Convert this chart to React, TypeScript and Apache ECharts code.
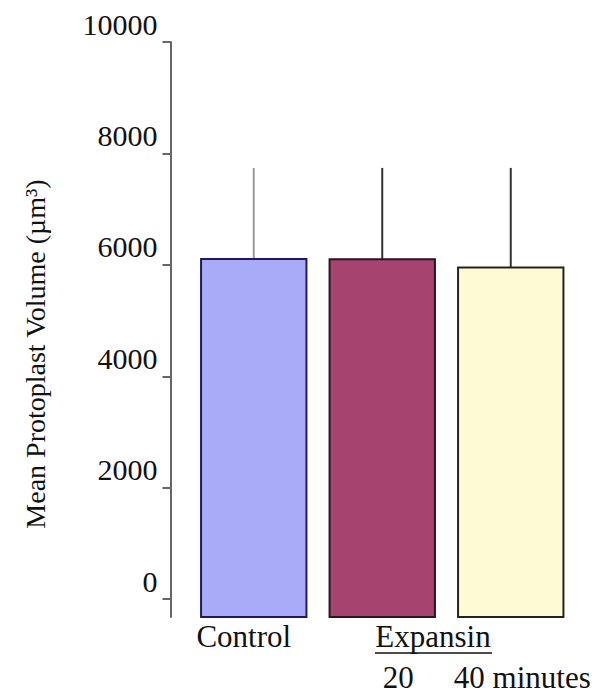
import React, { useEffect, useRef } from "react";
import * as echarts from "echarts";

const categories = ["Control", "20", "40 minutes"];
const meanValues = [6105, 6100, 5955];
const errorValues = [1635, 1640, 1785];
const yTicks = [0, 2000, 4000, 6000, 8000, 10000];
const barFills = ["#a9aaf8", "#a6446f", "#fdfbd3"];
const barBorders = ["#1c1c5c", "#2a1420", "#222222"];
const errorColors = ["#9a9a9a", "#333333", "#333333"];
const groupLabel = "Expansin";
const yTitle = "Mean Protoplast Volume (µm³)";

const FONT = '"Liberation Serif", "Times New Roman", serif';

export default function App() {
  const ref = useRef<HTMLDivElement>(null);
  useEffect(() => {
    if (!ref.current) return;
    const chart = echarts.init(ref.current, undefined, { renderer: "svg" });
    const labelPads = [
      [0, 20, 0, 0],
      [0, 0, 0, 32],
      [0, 0, 0, 23],
    ];
    const rich: Record<string, any> = {};
    labelPads.forEach((p, i) => {
      rich["c" + i] = {
        padding: p,
        fontSize: 31,
        lineHeight: 31,
        fontFamily: FONT,
        color: "#111",
      };
    });
    const baseX = {
      type: "category",
      data: categories,
      position: "bottom",
      axisLine: { show: false },
      axisTick: { show: false },
    };
    chart.setOption({
      animation: false,
      backgroundColor: "#ffffff",
      grid: { left: 189.5, right: 22, top: 42, bottom: 77 },
      xAxis: [
        {
          ...baseX,
          axisLabel: {
            interval: 0,
            margin: 4,
            verticalAlign: "top",
            formatter: (v: string, i: number) => (i === 0 ? `{c${i}|${v}}` : ""),
            rich,
          },
        },
        {
          ...baseX,
          offset: 41,
          axisLabel: {
            interval: 0,
            margin: 4,
            verticalAlign: "top",
            formatter: (v: string, i: number) => (i === 0 ? "" : `{c${i}|${v}}`),
            rich,
          },
        },
      ],
      yAxis: {
        type: "value",
        min: -320,
        max: 10000,
        offset: 19,
        splitLine: { show: false },
        axisLine: { show: true, lineStyle: { color: "#666", width: 2 } },
        axisTick: {
          show: true,
          length: 8,
          customValues: yTicks,
          lineStyle: { color: "#666", width: 2 },
        },
        axisLabel: {
          customValues: yTicks,
          margin: 13,
          fontSize: 30,
          fontFamily: FONT,
          color: "#111",
          verticalAlign: "bottom",
          lineHeight: 36,
          formatter: (v: number) => String(v),
        },
      },
      series: [
        {
          type: "custom",
          xAxisIndex: 0,
          encode: { x: 0, y: 1 },
          data: categories.map((c, i) => [i, meanValues[i], errorValues[i]]),
          renderItem: (params: any, api: any) => {
            const idx = api.value(0);
            const v = api.value(1);
            const e = api.value(2);
            const top = api.coord([idx, v]);
            const whisk = api.coord([idx, v + e]);
            const cs = params.coordSys;
            const bottom = cs.y + cs.height;
            const w = api.size([1, 0])[0] * 0.82;
            return {
              type: "group",
              children: [
                {
                  type: "line",
                  shape: { x1: top[0], y1: whisk[1], x2: top[0], y2: top[1] },
                  style: { stroke: errorColors[idx], lineWidth: 2 },
                },
                {
                  type: "rect",
                  shape: { x: top[0] - w / 2, y: top[1], width: w, height: bottom - top[1] },
                  style: { fill: barFills[idx], stroke: barBorders[idx], lineWidth: 2 },
                },
              ],
            };
          },
        },
      ],
      graphic: [
        {
          type: "text",
          x: 35,
          y: 354,
          rotation: Math.PI / 2,
          style: {
            text: yTitle,
            fontSize: 28,
            fontFamily: FONT,
            fill: "#111",
            align: "center",
            verticalAlign: "middle",
          },
        },
        {
          type: "text",
          x: 433,
          y: 636,
          style: {
            text: groupLabel,
            fontSize: 31,
            fontFamily: FONT,
            fill: "#111",
            align: "center",
            verticalAlign: "middle",
          },
        },
        {
          type: "line",
          shape: { x1: 375, y1: 653, x2: 492, y2: 653 },
          style: { stroke: "#111", lineWidth: 1.5 },
        },
      ],
    });
    return () => chart.dispose();
  }, []);
  return (
    <div
      ref={ref}
      style={{ position: "fixed", left: 0, top: 0, width: 597, height: 694 }}
    />
  );
}
